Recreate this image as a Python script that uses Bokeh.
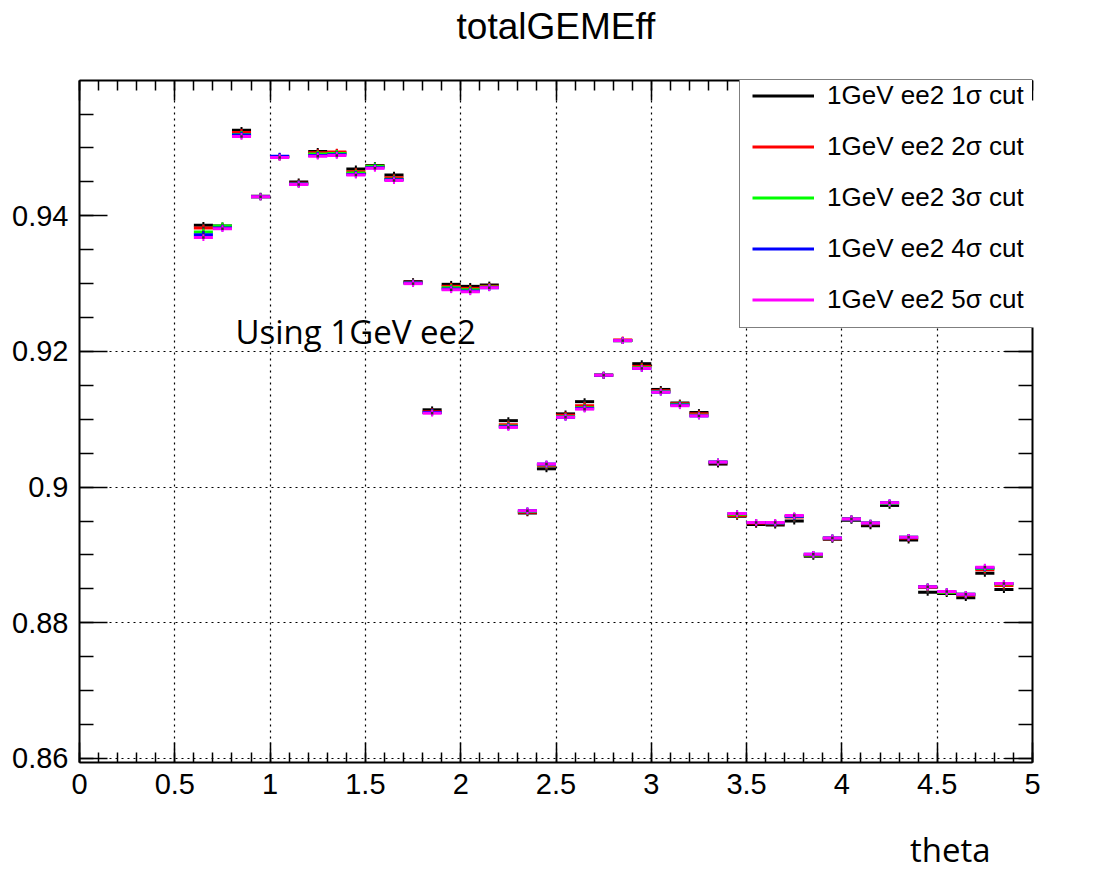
from bokeh.plotting import figure
from bokeh.models import (Range1d, LinearAxis, SingleIntervalTicker, Legend, LegendItem,
                          Label, ColumnDataSource)
from bokeh.embed import file_html
from bokeh.resources import INLINE

# ---------------- data ----------------
bin_low = [0.6, 0.7, 0.8, 0.9, 1.0, 1.1, 1.2, 1.3, 1.4, 1.5, 1.6, 1.7, 1.8, 1.9, 2.0,
           2.1, 2.2, 2.3, 2.4, 2.5, 2.6, 2.7, 2.8, 2.9, 3.0, 3.1, 3.2, 3.3, 3.4, 3.5,
           3.6, 3.7, 3.8, 3.9, 4.0, 4.1, 4.2, 4.3, 4.4, 4.5, 4.6, 4.7, 4.8]
bin_width = 0.1

eff_1sigma = [0.9386, 0.9385, 0.9526, 0.9429, 0.9487, 0.9450, 0.9495, 0.9493, 0.9469, 0.9474,
              0.9460, 0.9303, 0.9114, 0.9299, 0.9296, 0.9298, 0.9098, 0.8962, 0.9027, 0.9108,
              0.9126, 0.9165, 0.9216, 0.9182, 0.9144, 0.9124, 0.9110, 0.9034, 0.8957, 0.8945,
              0.8944, 0.8950, 0.8898, 0.8923, 0.8951, 0.8943, 0.8973, 0.8922, 0.8845, 0.8843,
              0.8837, 0.8873, 0.8849]
eff_2sigma = [0.9382, 0.9384, 0.9523, 0.9428, 0.9487, 0.9448, 0.9493, 0.9494, 0.9465, 0.9473,
              0.9456, 0.9302, 0.9111, 0.9296, 0.9293, 0.9296, 0.9092, 0.8963, 0.9032, 0.9106,
              0.9120, 0.9165, 0.9217, 0.9178, 0.9142, 0.9123, 0.9108, 0.9036, 0.8958, 0.8947,
              0.8946, 0.8956, 0.8900, 0.8924, 0.8953, 0.8946, 0.8976, 0.8925, 0.8852, 0.8845,
              0.8841, 0.8878, 0.8855]
eff_3sigma = [0.9376, 0.9385, 0.9520, 0.9428, 0.9487, 0.9447, 0.9491, 0.9492, 0.9463, 0.9473,
              0.9454, 0.9301, 0.9110, 0.9294, 0.9291, 0.9295, 0.9090, 0.8964, 0.9033, 0.9104,
              0.9117, 0.9165, 0.9216, 0.9176, 0.9141, 0.9122, 0.9106, 0.9037, 0.8960, 0.8948,
              0.8947, 0.8957, 0.8900, 0.8925, 0.8953, 0.8947, 0.8976, 0.8926, 0.8853, 0.8845,
              0.8842, 0.8880, 0.8857]
eff_4sigma = [0.9372, 0.9382, 0.9519, 0.9428, 0.9488, 0.9447, 0.9489, 0.9490, 0.9461, 0.9471,
              0.9453, 0.9301, 0.9110, 0.9292, 0.9289, 0.9294, 0.9089, 0.8965, 0.9034, 0.9103,
              0.9116, 0.9165, 0.9216, 0.9175, 0.9140, 0.9121, 0.9105, 0.9037, 0.8961, 0.8948,
              0.8947, 0.8957, 0.8901, 0.8925, 0.8953, 0.8947, 0.8977, 0.8926, 0.8853, 0.8846,
              0.8842, 0.8881, 0.8858]
eff_5sigma = [0.9368, 0.9381, 0.9517, 0.9428, 0.9486, 0.9446, 0.9488, 0.9489, 0.9460, 0.9470,
              0.9452, 0.9300, 0.9109, 0.9291, 0.9288, 0.9294, 0.9088, 0.8965, 0.9034, 0.9103,
              0.9115, 0.9165, 0.9216, 0.9175, 0.9140, 0.9120, 0.9105, 0.9037, 0.8961, 0.8948,
              0.8948, 0.8958, 0.8901, 0.8925, 0.8953, 0.8947, 0.8977, 0.8926, 0.8853, 0.8846,
              0.8842, 0.8882, 0.8858]
eff_error = [0.0005, 0.0005, 0.0005, 0.0005, 0.0005, 0.0005, 0.0005, 0.0005, 0.0005, 0.0005,
             0.0005, 0.0005, 0.0005, 0.0005, 0.0005, 0.0005, 0.0005, 0.0005, 0.0005, 0.0005,
             0.0005, 0.0005, 0.0005, 0.0005, 0.0005, 0.0005, 0.0005, 0.0005, 0.0005, 0.0005,
             0.0005, 0.0005, 0.0005, 0.0005, 0.0005, 0.0005, 0.0005, 0.0005, 0.0005, 0.0005,
             0.0005, 0.0005, 0.0005]

series_labels = ["1GeV ee2 1\u03c3 cut", "1GeV ee2 2\u03c3 cut", "1GeV ee2 3\u03c3 cut",
                 "1GeV ee2 4\u03c3 cut", "1GeV ee2 5\u03c3 cut"]
series_values = [eff_1sigma, eff_2sigma, eff_3sigma, eff_4sigma, eff_5sigma]
series_colors = ["#000000", "#ff0000", "#00ff00", "#0000ff", "#ff00ff"]

x_ticks_interval = 0.5
y_ticks_interval = 0.02

# ---------------- figure ----------------
FL, FR, FT, FB = 79, 1032, 80, 762
W, H = 1094, 875

p = figure(width=W, height=H, output_backend="svg", toolbar_location=None,
           x_range=Range1d(0, 5), y_range=Range1d(0.8594, 0.95995),
           min_border_left=FL, min_border_right=W - FR,
           min_border_top=FT, min_border_bottom=H - FB)
p.background_fill_color = "white"
p.border_fill_color = "white"
p.outline_line_color = None

FONT = "Liberation Sans"

def style_axis(ax, ticker, tick_len, labels):
    ax.ticker = ticker
    ax.major_tick_in = tick_len
    ax.major_tick_out = 0
    ax.minor_tick_in = tick_len // 2
    ax.minor_tick_out = 0
    ax.axis_line_width = 2
    ax.major_tick_line_width = 1.5
    ax.minor_tick_line_width = 1.5
    ax.major_label_text_font = FONT
    ax.major_label_text_font_size = "29px" if labels else "0px"
    ax.major_label_text_color = "black"
    ax.major_label_standoff = (11 if labels else 0)

def x_ticker():
    return SingleIntervalTicker(interval=x_ticks_interval, num_minor_ticks=5)

def y_ticker():
    return SingleIntervalTicker(interval=y_ticks_interval, num_minor_ticks=4)

# bottom axis; its caption sits right of centre as in ROOT (padded with no-break spaces)
style_axis(p.xaxis[0], x_ticker(), 20, True)
p.xaxis[0].axis_label = "\u00a0" * 92 + "theta"
p.xaxis[0].axis_label_text_font = "Open Sans"
p.xaxis[0].axis_label_text_font_size = "33px"
p.xaxis[0].axis_label_text_font_style = "normal"
p.xaxis[0].axis_label_text_color = "black"
p.xaxis[0].axis_label_standoff = 30

style_axis(p.yaxis[0], y_ticker(), 28, True)
p.yaxis[0].formatter.use_scientific = False

# top axis carries the title as its axis label
ax_top = LinearAxis(axis_label="totalGEMEff")
style_axis(ax_top, x_ticker(), 20, False)
ax_top.axis_label_text_font = FONT
ax_top.axis_label_text_font_size = "37px"
ax_top.axis_label_text_font_style = "normal"
ax_top.axis_label_text_color = "black"
ax_top.axis_label_standoff = 34
p.add_layout(ax_top, "above")

ax_right = LinearAxis(bounds=(0.8594, 0.9236))
style_axis(ax_right, y_ticker(), 28, False)
p.add_layout(ax_right, "right")

for g, t in ((p.xgrid[0], x_ticker()), (p.ygrid[0], y_ticker())):
    g.ticker = t
    g.grid_line_color = "black"
    g.grid_line_alpha = 1.0
    g.grid_line_width = 1.2
    g.grid_line_dash = "2 4"

# ---------------- data glyphs ----------------
legend_items = []
for label, vals, col in zip(series_labels, series_values, series_colors):
    x0 = [b for b in bin_low]
    x1 = [b + bin_width for b in bin_low]
    xc = [b + bin_width / 2 for b in bin_low]
    lo = [v - e for v, e in zip(vals, eff_error)]
    hi = [v + e for v, e in zip(vals, eff_error)]
    src = ColumnDataSource(dict(x0=x0, x1=x1, xc=xc, y=vals, lo=lo, hi=hi))
    bars = p.segment(x0="x0", y0="y", x1="x1", y1="y", source=src, line_color=col, line_width=3)
    p.segment(x0="xc", y0="lo", x1="xc", y1="hi", source=src, line_color=col, line_width=2)
    p.scatter(x="xc", y="y", source=src, marker="square", size=2.5,
              fill_color="#333333", line_color=None)
    legend_items.append(LegendItem(label=label, renderers=[bars]))

legend = Legend(items=legend_items, location=(739 - FL, FB - 328),
                orientation="vertical", padding=12, spacing=20,
                glyph_width=62, glyph_height=31, label_height=31, label_width=300,
                label_standoff=13, margin=0,
                label_text_font=FONT, label_text_font_size="26px",
                label_text_color="black",
                border_line_color="black", border_line_width=1.5,
                background_fill_color="white", background_fill_alpha=1.0)
p.add_layout(legend, "center")

# ---------------- texts ----------------
p.add_layout(Label(x=235 - FL, y=FB - 331, x_units="screen", y_units="screen",
                   text="Using 1GeV ee2", text_font="Open Sans", text_font_size="33px",
                   text_align="left", text_baseline="alphabetic", text_color="black"))

open("out.html", "w").write(file_html(p, INLINE))
